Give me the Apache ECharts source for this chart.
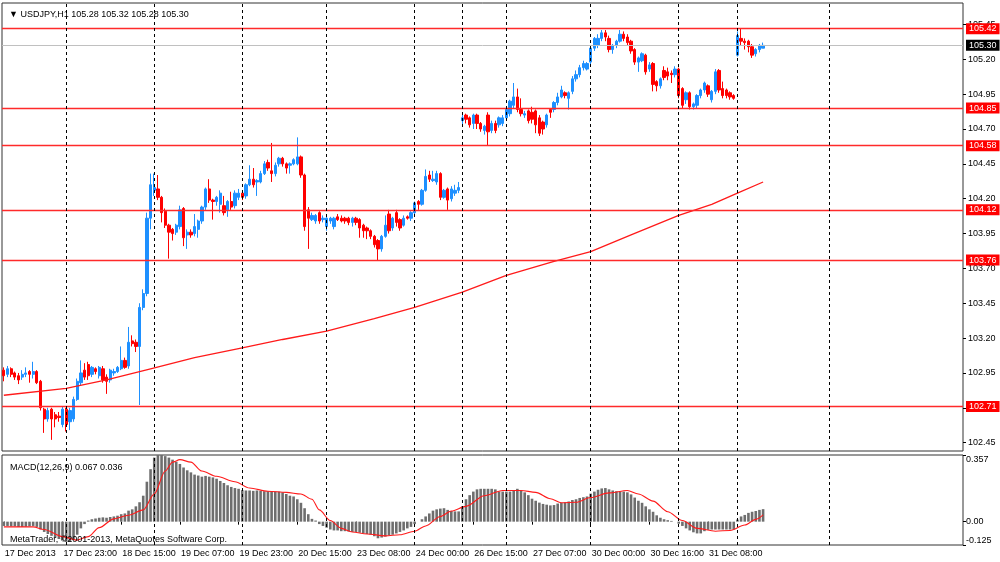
<!DOCTYPE html>
<html>
<head>
<meta charset="utf-8">
<script src="https://cdn.jsdelivr.net/npm/echarts@6/dist/echarts.min.js"></script>
<style>
html, body { margin: 0; padding: 0; background: #fff; }
#chart { width: 1000px; height: 562px; }
</style>
</head>
<body>
<div id="chart"></div>
<script>
//-----------------------------------------data-----------------------------------------
// USDJPY H1 candles: [open, close, low, high]
var candles = [
    [102.97,102.93,102.89,102.99],[102.94,102.98,102.92,103.00],[102.98,102.94,102.92,102.99],[102.95,102.92,102.90,102.96],
    [102.93,102.90,102.87,102.95],[102.92,102.94,102.90,102.97],[102.94,102.95,102.92,102.99],[102.96,102.94,102.88,102.97],
    [102.94,102.96,102.91,103.03],[102.96,102.88,102.87,102.97],[102.89,102.70,102.68,102.90],[102.69,102.62,102.52,102.70],
    [102.62,102.68,102.60,102.70],[102.69,102.62,102.47,102.70],[102.65,102.62,102.56,102.67],[102.64,102.63,102.60,102.67],
    [102.58,102.69,102.56,102.71],[102.69,102.58,102.53,102.70],[102.60,102.68,102.54,102.70],[102.62,102.76,102.60,102.78],
    [102.76,102.89,102.75,102.91],[102.88,102.95,102.86,103.04],[102.97,102.92,102.90,103.02],[103.01,102.93,102.90,103.03],
    [102.94,102.99,102.92,103.00],[102.98,102.96,102.94,102.99],[102.93,102.99,102.91,103.00],[102.98,102.90,102.88,103.00],
    [102.92,102.89,102.80,102.94],[102.90,102.97,102.88,102.98],[102.95,102.96,102.93,102.98],[102.96,102.99,102.95,103.00],
    [102.98,103.04,102.97,103.14],[103.04,102.99,102.98,103.06],[103.00,103.17,102.98,103.28],[103.18,103.16,103.14,103.22],
    [103.17,103.14,103.10,103.19],[103.14,103.42,102.72,103.45],[103.42,103.52,103.40,103.55],[103.52,104.06,103.50,104.10],
    [104.06,104.30,103.98,104.38],[104.26,104.28,104.22,104.38],[104.27,104.21,104.19,104.37],[104.21,104.10,104.03,104.22],
    [104.11,104.01,103.99,104.13],[104.01,103.96,103.77,104.02],[103.98,103.95,103.90,103.99],[103.96,104.01,103.94,104.02],
    [104.00,104.12,103.98,104.15],[104.13,103.92,103.86,104.14],[103.94,103.96,103.84,103.98],[103.96,103.94,103.92,103.98],
    [103.95,104.00,103.93,104.09],[103.98,104.04,103.92,104.05],[104.04,104.14,104.02,104.15],[104.14,104.27,104.12,104.28],
    [104.27,104.19,104.17,104.34],[104.19,104.18,104.05,104.20],[104.18,104.21,104.15,104.22],[104.16,104.24,104.10,104.26],
    [104.15,104.10,104.08,104.22],[104.12,104.18,104.07,104.19],[104.18,104.14,104.12,104.25],[104.15,104.24,104.13,104.26],
    [104.21,104.24,104.19,104.27],[104.24,104.21,104.19,104.25],[104.22,104.30,104.20,104.31],[104.30,104.34,104.29,104.44],
    [104.34,104.30,104.28,104.42],[104.32,104.33,104.22,104.34],[104.32,104.38,104.31,104.40],[104.38,104.45,104.37,104.47],
    [104.46,104.42,104.40,104.48],[104.40,104.38,104.32,104.60],[104.38,104.44,104.36,104.46],[104.45,104.49,104.43,104.50],
    [104.49,104.45,104.43,104.50],[104.45,104.42,104.38,104.46],[104.44,104.45,104.38,104.46],[104.45,104.48,104.44,104.49],
    [104.45,104.50,104.44,104.64],[104.50,104.37,104.35,104.51],[104.37,104.00,103.97,104.38],[104.12,104.06,103.84,104.14],
    [104.05,104.08,104.04,104.10],[104.04,104.08,104.02,104.09],[104.10,104.04,104.02,104.11],[104.05,104.06,104.03,104.08],
    [104.00,104.06,103.97,104.07],[104.04,104.06,104.02,104.07],[104.00,104.06,103.98,104.07],[104.07,104.05,104.04,104.09],
    [104.06,104.04,104.03,104.08],[104.06,104.04,104.02,104.07],[104.06,104.03,104.01,104.07],[104.03,104.06,104.00,104.07],
    [104.06,104.03,104.01,104.07],[104.05,103.99,103.92,104.06],[104.01,103.97,103.92,104.02],[103.99,103.97,103.91,104.00],
    [103.97,103.93,103.91,103.98],[103.93,103.87,103.85,103.94],[103.90,103.84,103.76,103.91],[103.84,103.93,103.82,103.94],
    [103.93,104.01,103.92,104.08],[104.09,103.97,103.95,104.12],[103.99,104.06,103.97,104.07],[104.10,104.03,104.00,104.12],
    [104.05,103.99,103.97,104.06],[104.01,104.06,104.00,104.08],[104.07,104.06,104.05,104.08],[104.06,104.10,104.04,104.11],
    [104.10,104.17,104.09,104.18],[104.18,104.16,104.12,104.19],[104.16,104.26,104.15,104.27],[104.26,104.36,104.25,104.41],
    [104.37,104.34,104.32,104.40],[104.33,104.34,104.32,104.40],[104.32,104.38,104.30,104.40],[104.38,104.21,104.19,104.39],
    [104.21,104.26,104.20,104.27],[104.27,104.19,104.12,104.28],[104.20,104.27,104.18,104.29],[104.24,104.26,104.22,104.30],
    [104.26,104.28,104.24,104.32],[104.76,104.78,104.72,104.80],[104.80,104.77,104.74,104.81],[104.78,104.73,104.71,104.79],
    [104.74,104.80,104.70,104.81],[104.80,104.74,104.70,104.81],[104.74,104.70,104.68,104.75],[104.69,104.72,104.66,104.73],
    [104.80,104.68,104.58,104.82],[104.69,104.74,104.67,104.76],[104.74,104.69,104.67,104.76],[104.73,104.78,104.71,104.79],
    [104.74,104.78,104.72,104.80],[104.78,104.84,104.76,104.85],[104.81,104.90,104.79,104.91],[104.87,104.93,104.85,105.03],
    [104.93,104.84,104.82,104.99],[104.84,104.81,104.79,104.92],[104.80,104.81,104.78,104.83],[104.83,104.76,104.74,104.84],
    [104.82,104.77,104.74,104.86],[104.83,104.73,104.67,104.84],[104.78,104.67,104.65,104.80],[104.75,104.70,104.66,104.76],
    [104.73,104.80,104.71,104.81],[104.84,104.82,104.78,104.85],[104.84,104.89,104.82,104.90],[104.89,104.93,104.87,104.96],
    [104.93,104.98,104.92,105.01],[104.96,104.94,104.92,104.97],[104.92,104.96,104.84,104.97],[104.97,105.06,104.95,105.08],
    [105.06,105.09,105.04,105.12],[105.09,105.14,105.07,105.16],[105.14,105.17,105.12,105.19],[105.13,105.17,105.12,105.18],
    [105.18,105.28,105.16,105.30],[105.28,105.35,105.26,105.36],[105.30,105.35,105.28,105.38],[105.35,105.39,105.33,105.41],
    [105.39,105.36,105.33,105.41],[105.35,105.27,105.25,105.37],[105.27,105.30,105.24,105.31],[105.30,105.33,105.28,105.34],
    [105.33,105.38,105.32,105.41],[105.38,105.35,105.33,105.40],[105.36,105.32,105.30,105.38],[105.33,105.26,105.24,105.34],
    [105.27,105.18,105.16,105.28],[105.18,105.21,105.11,105.22],[105.19,105.24,105.18,105.25],[105.23,105.11,105.09,105.24],
    [105.13,105.16,105.11,105.18],[105.17,105.02,104.97,105.18],[105.04,105.01,104.97,105.05],[105.01,105.06,104.99,105.07],
    [105.12,105.07,105.05,105.15],[105.11,105.08,105.05,105.14],[105.10,105.09,105.03,105.12],[105.09,105.13,105.07,105.15],
    [105.13,104.94,104.92,105.14],[104.99,104.87,104.85,105.00],[104.91,104.96,104.88,104.97],[104.96,104.86,104.84,104.97],
    [104.86,104.88,104.84,104.89],[104.87,104.94,104.85,104.95],[104.94,104.98,104.92,104.99],[104.98,105.03,104.96,105.04],
    [105.01,104.95,104.93,105.02],[104.91,104.97,104.89,104.98],[104.97,105.11,104.95,105.13],[105.12,104.98,104.96,105.13],
    [104.99,104.94,104.92,105.04],[104.98,104.94,104.92,104.99],[104.96,104.93,104.91,104.97],[104.94,104.92,104.91,104.95],
    [105.23,105.37,105.22,105.40],[105.35,105.33,105.30,105.42],[105.33,105.32,105.27,105.35],[105.33,105.29,105.25,105.34],
    [105.29,105.23,105.21,105.31],[105.24,105.27,105.22,105.28],[105.27,105.30,105.25,105.31],[105.28,105.30,105.28,105.32]
];

// moving average, read at these bars
var maIdx = [0, 17, 28, 40, 52, 65, 76, 88, 101, 112, 125, 137, 150, 160, 171, 184, 193, 200, 207];
var maVal = [102.79, 102.84, 102.90, 102.98, 103.06, 103.13, 103.19, 103.25, 103.34, 103.42, 103.53, 103.65, 103.75, 103.82, 103.94, 104.08, 104.16, 104.24, 104.32];

// MACD(12,26,9) histogram, one per bar
var macdHist = [
    -0.023,-0.023,-0.025,-0.025,-0.028,-0.028,-0.027,-0.025,-0.023,-0.028,
    -0.042,-0.055,-0.066,-0.076,-0.085,-0.093,-0.099,-0.108,-0.108,-0.095,
    -0.070,-0.036,-0.013,0.006,0.013,0.017,0.021,0.023,0.021,0.025,
    0.028,0.032,0.040,0.044,0.059,0.066,0.082,0.104,0.139,0.214,
    0.281,0.343,0.357,0.357,0.351,0.343,0.332,0.321,0.309,0.290,
    0.275,0.264,0.252,0.247,0.241,0.245,0.241,0.237,0.230,0.218,
    0.207,0.195,0.186,0.180,0.176,0.169,0.167,0.167,0.165,0.167,
    0.165,0.163,0.163,0.163,0.161,0.161,0.157,0.148,0.139,0.135,
    0.120,0.101,0.072,0.040,0.015,0.006,-0.013,-0.023,-0.032,-0.042,
    -0.047,-0.047,-0.051,-0.051,-0.053,-0.055,-0.055,-0.059,-0.063,-0.066,
    -0.070,-0.078,-0.089,-0.085,-0.080,-0.074,-0.070,-0.063,-0.055,-0.047,
    -0.036,-0.028,-0.013,0.000,0.013,0.028,0.044,0.059,0.066,0.070,
    0.072,0.063,0.057,0.055,0.055,0.082,0.120,0.142,0.161,0.173,
    0.176,0.176,0.176,0.176,0.173,0.161,0.161,0.161,0.161,0.167,
    0.176,0.167,0.157,0.142,0.123,0.112,0.102,0.095,0.091,0.087,
    0.089,0.097,0.101,0.104,0.108,0.116,0.120,0.127,0.131,0.135,
    0.150,0.161,0.171,0.178,0.180,0.173,0.167,0.163,0.161,0.161,
    0.157,0.146,0.129,0.112,0.101,0.082,0.066,0.053,0.034,0.021,
    0.013,0.008,0.004,0.000,-0.011,-0.023,-0.036,-0.047,-0.057,-0.063,
    -0.063,-0.051,-0.044,-0.042,-0.042,-0.042,-0.042,-0.042,-0.042,-0.042,
    0.011,0.028,0.036,0.047,0.053,0.057,0.063,0.067
];

// MACD signal line, read at these bars
var sigIdx = [0, 8, 11, 16, 20, 23, 26, 30, 34, 38, 41, 44, 46, 48, 51, 54, 58, 63, 67, 72, 77, 81, 84, 86, 89, 92, 95, 99,
    104, 108, 112, 115, 119, 122, 126, 131, 136, 141, 145, 149, 152, 156, 160, 165, 170, 173, 177, 181, 185, 189, 194, 198, 202, 205, 207];
var sigVal = [-0.028, -0.028, -0.042, -0.080, -0.099, -0.080, -0.032, 0.015, 0.034, 0.063, 0.148, 0.271, 0.319, 0.332, 0.319, 0.271,
    0.243, 0.214, 0.180, 0.163, 0.157, 0.148, 0.120, 0.063, 0.006, -0.036, -0.055, -0.066, -0.076, -0.070, -0.051, -0.023, 0.028,
    0.057, 0.082, 0.139, 0.167, 0.167, 0.157, 0.123, 0.101, 0.104, 0.129, 0.154, 0.167, 0.148, 0.110, 0.053, 0.006, -0.036, -0.051,
    -0.047, -0.018, 0.012, 0.036];

// horizontal levels
var levels = [105.42, 104.85, 104.58, 104.12, 103.76, 102.71];
var bidLevel = 105.30;

// day separators (bar index of first bar of each session)
var separators = [17, 41, 65, 88, 112, 125, 137, 160, 184, 200, 225];

// tick labels
var priceTicks = [102.45, 102.70, 102.95, 103.20, 103.45, 103.70, 103.95, 104.20, 104.45, 104.70, 104.95, 105.20, 105.45];
var macdTicks = [-0.125, 0, 0.357];
var timeLabels = ['17 Dec 2013', '17 Dec 23:00', '18 Dec 15:00', '19 Dec 07:00', '19 Dec 23:00', '20 Dec 15:00', '23 Dec 08:00',
    '24 Dec 00:00', '26 Dec 15:00', '27 Dec 07:00', '30 Dec 00:00', '30 Dec 16:00', '31 Dec 08:00'];
var labelStep = 16;
var barSlots = 262;

//-----------------------------------------chart-----------------------------------------
var FONT = '"Liberation Sans", Arial, sans-serif';

function buildCategories(){
    var cats = [];
    for(var i = 0; i < barSlots; i++){
        cats.push(String(i));
    }
    return cats;
}

function isLabelBar(index){
    return index % labelStep === 0 && index / labelStep < timeLabels.length;
}

function initChart(){
    var chart = echarts.init(document.getElementById('chart'), null, {renderer: 'canvas'});
    var categories = buildCategories();
    var last = candles[candles.length - 1];
    //header shows O H L C of the last bar
    var header = '\u25BC USDJPY,H1 ' + [last[0], last[3], last[2], last[1]].map(function(v){ return v.toFixed(2); }).join(' ');
    var macdHeader = 'MACD(12,26,9) ' + macdHist[macdHist.length - 1].toFixed(3) + ' ' + sigVal[sigVal.length - 1].toFixed(3);

    var maData = maIdx.map(function(ix, k){ return [ix, maVal[k]]; });
    var sigData = sigIdx.map(function(ix, k){ return [ix, sigVal[k]]; });

    var levelLines = levels.map(function(v){
        return {yAxis: v};
    });
    levelLines.push({
        yAxis: bidLevel,
        lineStyle: {color: '#c0c0c0', width: 1, type: 'solid'},
        label: {backgroundColor: '#000', color: '#fff'}
    });

    var sepLines = separators.map(function(ix){ return {xAxis: ix}; });
    var sepStyle = {
        silent: true,
        symbol: 'none',
        animation: false,
        label: {show: false},
        lineStyle: {color: '#000', width: 1, type: [3, 3]},
        emphasis: {disabled: true},
        data: sepLines
    };

    var option = {
        animation: false,
        backgroundColor: '#fff',
        textStyle: {fontFamily: FONT},
        title: [{
            text: header,
            left: 4,
            top: 5,
            textStyle: {fontSize: 9, fontWeight: 'normal', color: '#000', fontFamily: FONT}
        }, {
            text: macdHeader,
            left: 5,
            top: 458,
            textStyle: {fontSize: 9, fontWeight: 'normal', color: '#000', fontFamily: FONT}
        }, {
            text: 'MetaTrader, \u00A92001-2013, MetaQuotes Software Corp.',
            left: 5,
            top: 530,
            textStyle: {fontSize: 9, fontWeight: 'normal', color: '#000', fontFamily: FONT}
        }],
        grid: [{
            left: 2,
            right: 37,
            top: 3,
            height: 448,
            show: true,
            borderColor: '#333',
            borderWidth: 1,
            backgroundColor: '#fff'
        }, {
            left: 2,
            right: 37,
            top: 455,
            height: 90,
            show: true,
            borderColor: '#333',
            borderWidth: 1,
            backgroundColor: '#fff'
        }],
        xAxis: [{
            type: 'category',
            gridIndex: 0,
            data: categories,
            boundaryGap: true,
            show: false
        }, {
            type: 'category',
            gridIndex: 1,
            data: categories,
            boundaryGap: true,
            axisLine: {show: false},
            axisTick: {
                show: true,
                length: 3,
                alignWithLabel: true,
                interval: function(index){ return isLabelBar(index); },
                lineStyle: {color: '#000'}
            },
            axisLabel: {
                show: true,
                interval: function(index){ return isLabelBar(index); },
                formatter: function(value, index){ return timeLabels[index / labelStep] || ''; },
                align: 'left',
                margin: 4,
                padding: [0, 0, 0, 1],
                color: '#000',
                fontSize: 9,
                fontFamily: FONT,
                hideOverlap: false
            },
            splitLine: {show: false}
        }],
        yAxis: [{
            type: 'value',
            gridIndex: 0,
            position: 'right',
            min: 102.39,
            max: 105.604,
            scale: true,
            axisLine: {show: false},
            axisTick: {show: true, length: 3, customValues: priceTicks, lineStyle: {color: '#000'}},
            axisLabel: {
                customValues: priceTicks,
                formatter: function(v){ return v.toFixed(2); },
                margin: 5,
                color: '#000',
                fontSize: 9,
                fontFamily: FONT,
                hideOverlap: false
            },
            splitLine: {show: false}
        }, {
            type: 'value',
            gridIndex: 1,
            position: 'right',
            min: -0.125,
            max: 0.357,
            axisLine: {show: false},
            axisTick: {show: true, length: 3, customValues: macdTicks, lineStyle: {color: '#000'}},
            axisLabel: {
                customValues: macdTicks,
                formatter: function(v){ return v === 0 ? '0.00' : String(v); },
                margin: 3,
                color: '#000',
                fontSize: 9,
                fontFamily: FONT,
                verticalAlignMinLabel: 'bottom',
                verticalAlignMaxLabel: 'top',
                hideOverlap: false
            },
            splitLine: {show: false}
        }],
        series: [{
            name: 'USDJPY',
            type: 'candlestick',
            xAxisIndex: 0,
            yAxisIndex: 0,
            data: candles,
            barWidth: 2.8,
            itemStyle: {
                color: '#1e90ff',
                color0: '#ff0000',
                borderColor: '#1e90ff',
                borderColor0: '#ff0000',
                borderColorDoji: '#1e90ff',
                borderWidth: 1
            },
            markLine: {
                silent: true,
                symbol: 'none',
                animation: false,
                emphasis: {disabled: true},
                lineStyle: {color: '#ff2a2a', width: 1.4, type: 'solid'},
                label: {
                    show: true,
                    position: 'end',
                    distance: 3,
                    formatter: function(p){ return p.value.toFixed(2); },
                    backgroundColor: '#ff0000',
                    color: '#fff',
                    fontSize: 9,
                    fontFamily: FONT,
                    padding: [1, 3, 0, 3],
                    lineHeight: 10
                },
                data: levelLines
            }
        }, {
            name: 'MA',
            type: 'line',
            xAxisIndex: 0,
            yAxisIndex: 0,
            data: maData,
            showSymbol: false,
            smooth: false,
            lineStyle: {color: '#ff1a1a', width: 1.3},
            z: 3,
            markLine: sepStyle
        }, {
            name: 'MACD',
            type: 'bar',
            xAxisIndex: 1,
            yAxisIndex: 1,
            data: macdHist,
            barWidth: 2.6,
            itemStyle: {color: '#6e6e6e'},
            markLine: sepStyle
        }, {
            name: 'Signal',
            type: 'line',
            xAxisIndex: 1,
            yAxisIndex: 1,
            data: sigData,
            showSymbol: false,
            smooth: 0.3,
            smoothMonotone: 'x',
            lineStyle: {color: '#ff1a1a', width: 1.1},
            z: 4
        }]
    };
    chart.setOption(option);
}

initChart();
</script>
</body>
</html>
